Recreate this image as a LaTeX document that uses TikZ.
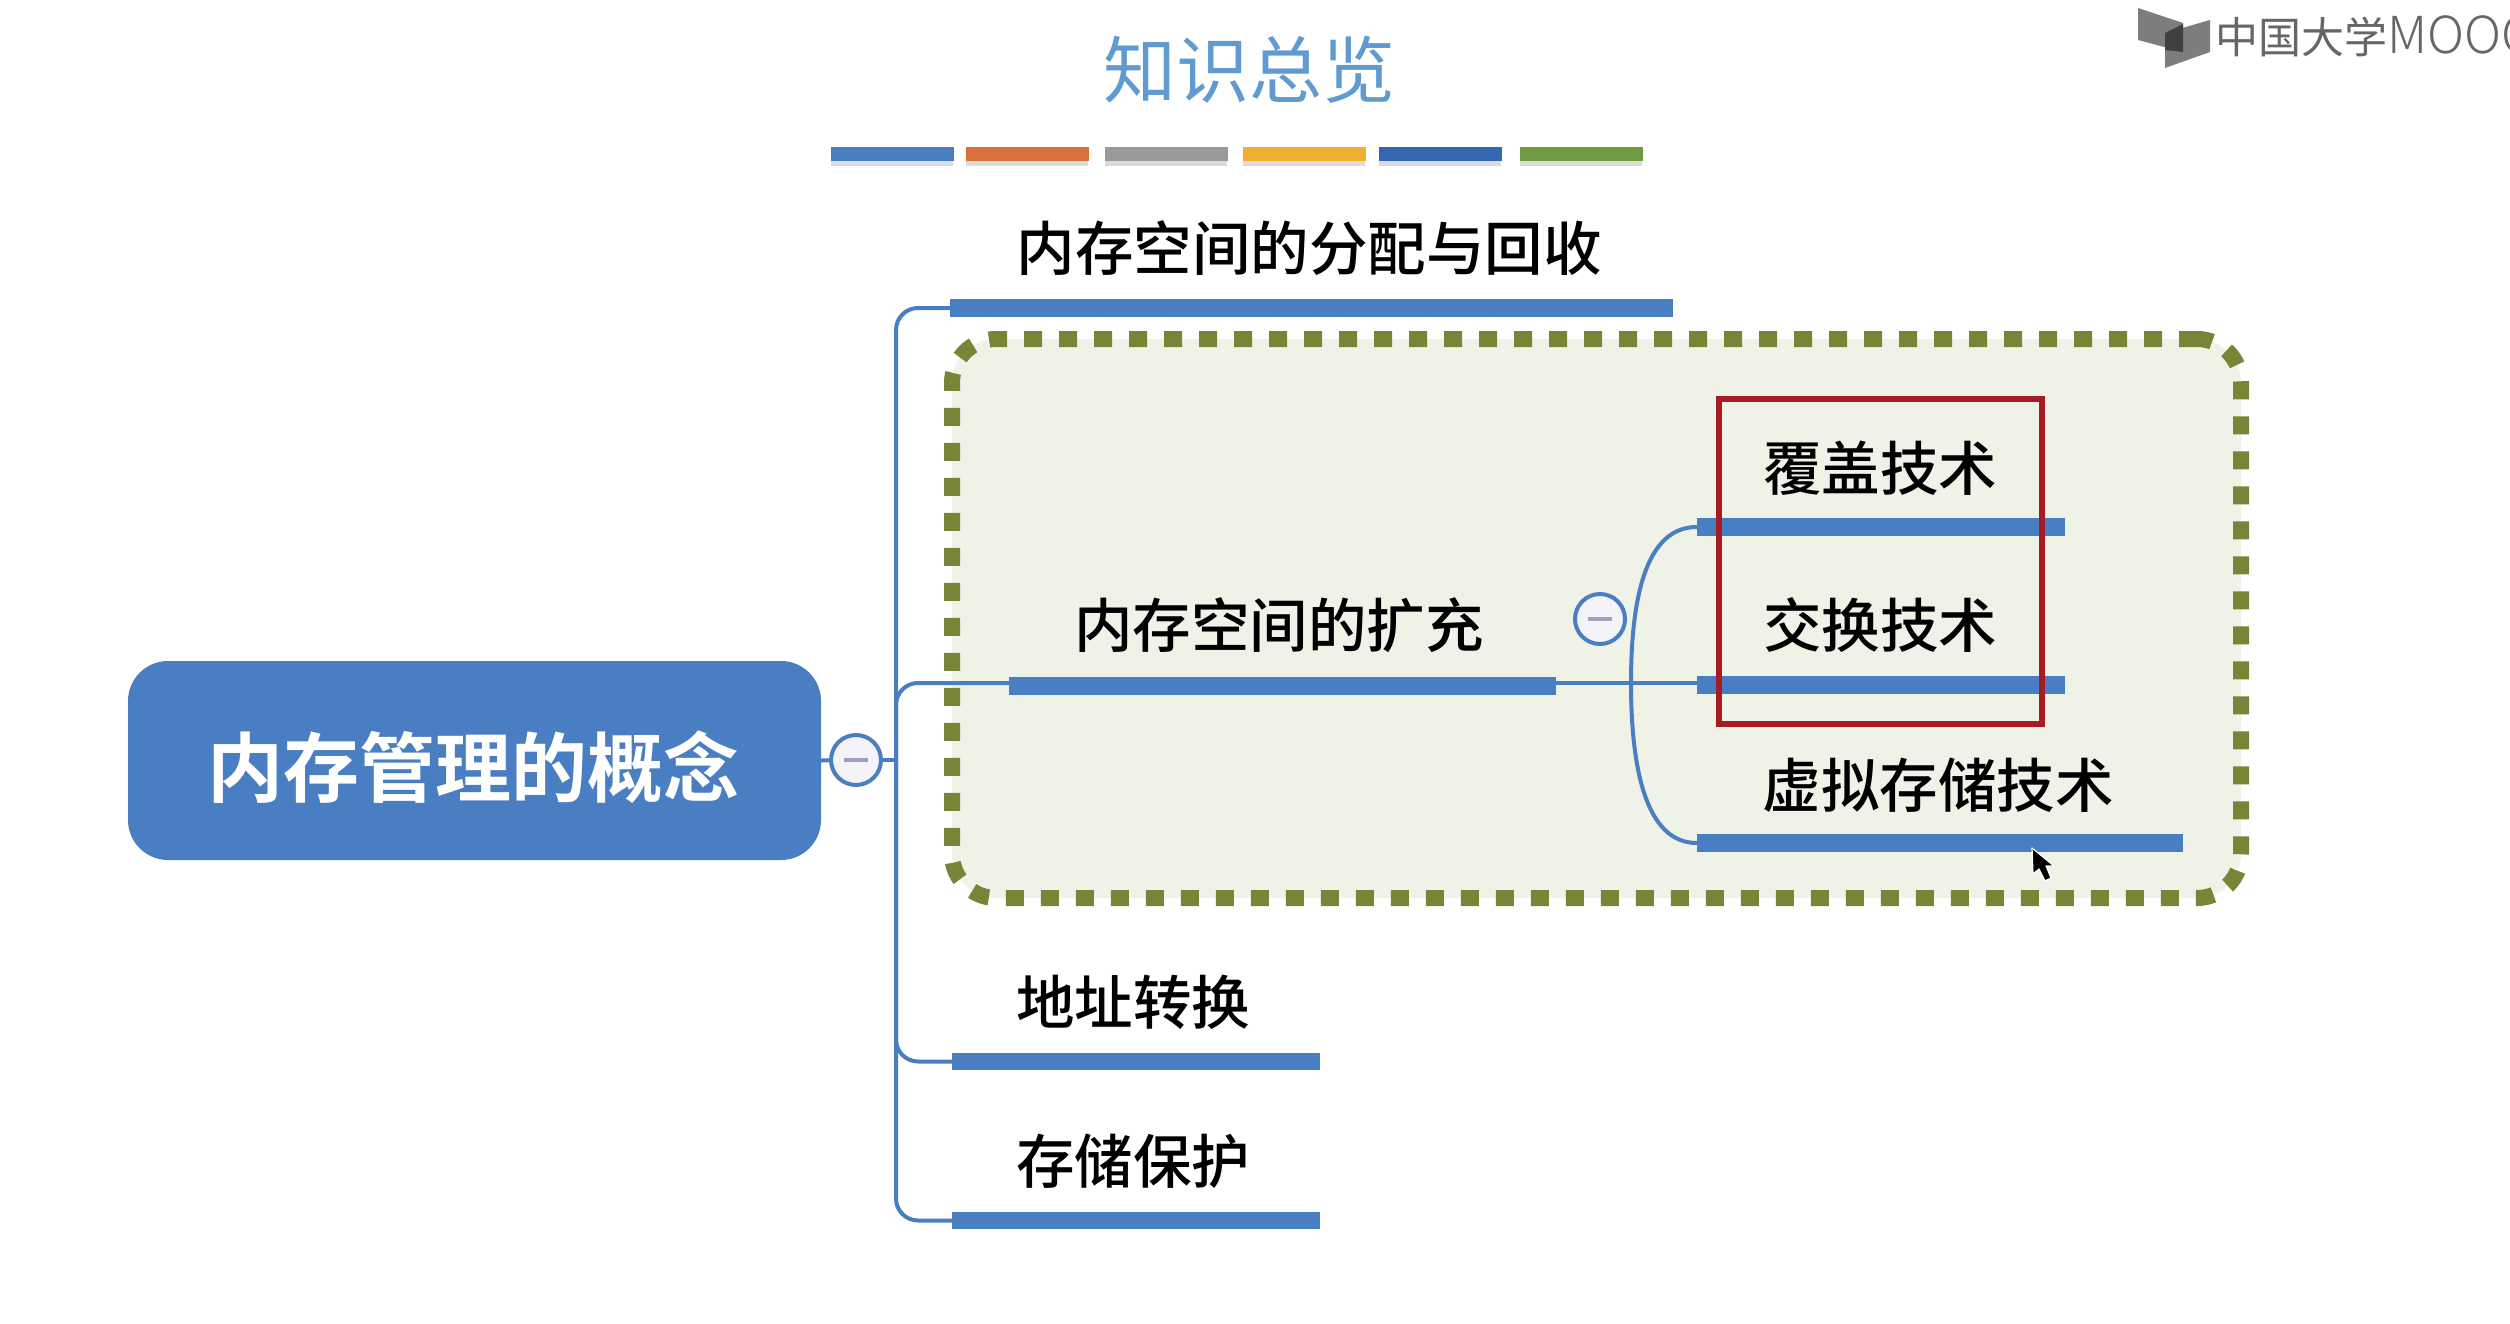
\documentclass[tikz,border=0pt]{standalone}
\usepackage{fontspec}
\setmainfont{Noto Sans CJK SC Medium}
\newfontfamily\lightcjk{Noto Sans CJK SC Light}
\newfontfamily\regcjk{Noto Sans CJK SC}
\newfontfamily\boldcjk{Noto Sans CJK SC Bold}
\definecolor{mblue}{HTML}{4A7EC2}
\definecolor{tblue}{HTML}{5F9BD0}
\definecolor{gfill}{HTML}{EFF2E7}
\definecolor{golive}{HTML}{7A8436}
\definecolor{rbox}{HTML}{A61C24}
\definecolor{kfill}{HTML}{F3F3F8}
\definecolor{kminus}{HTML}{A0A0C4}
\definecolor{logog}{HTML}{666666}
\tikzset{
  x=1pt,y=-1pt,
  bar/.style={fill=mblue,draw=none,inner sep=0pt,minimum height=17.5pt},
  conn/.style={draw=mblue,line width=4pt},
  label/.style={inner sep=0pt,text=black,font=\fontsize{58.5}{60}\selectfont},
  knot/.style={circle,draw=mblue,line width=4pt,fill=kfill,minimum size=50pt,inner sep=0pt},
  deco/.style={draw=none,inner sep=0pt,minimum height=14pt,minimum width=123pt},
}
\begin{document}
\begin{tikzpicture}
\clip (0,0) rectangle (2510,1324);
\useasboundingbox (0,0) rectangle (2510,1324);
\fill[white] (0,0) rectangle (2510,1324);
% title
\node[inner sep=0pt,text=tblue,font=\regcjk\fontsize{73}{75}\selectfont] (title) at (1249,70) {知识总览};
% decorative bars
\foreach \cx/\col/\nm in {892/4A7EC2/d1,1027/D9703A/d2,1166/999999/d3,1304/F0AE2E/d4,1440/3566B0/d5,1581/6E9A40/d6}{
  \definecolor{tmpc}{HTML}{\col}
  \fill[black,opacity=.14] (\cx-61,152) rectangle (\cx+61,166);
  \node[deco,fill=tmpc] (\nm) at (\cx,154) {};
}
% group box
\node[rounded corners=44pt,draw=golive,fill=gfill,line width=16pt,dash pattern=on 18pt off 17pt,
      minimum width=1289pt,minimum height=559pt,inner sep=0pt] (grp) at (1596.5,618.5) {};
% root and branches
\node[rounded corners=40pt,fill=mblue,inner sep=0pt,minimum width=693pt,minimum height=199pt] (root) at (474.5,760.5) {};
\node[inner sep=0pt,text=white,font=\boldcjk\fontsize{76}{78}\selectfont] (rootlabel) at (473,767) {内存管理的概念};
\node[knot] (k1) at (856,760) {};
\node[knot] (k2) at (1600,619) {};
\fill[kminus] (844,758) rectangle (868,762);
\fill[kminus] (1588,617) rectangle (1612,621);
\coordinate (t) at (896,760);
\node[bar,minimum width=723pt] (b1) at (1311.5,308) {};
\node[bar,minimum width=547pt] (b2) at (1282.5,686) {};
\node[bar,minimum width=368pt] (b3) at (1136,1061.5) {};
\node[bar,minimum width=368pt] (b4) at (1136,1220.5) {};
\node[bar,minimum width=368pt] (c1) at (1881,527) {};
\node[bar,minimum width=368pt] (c2) at (1881,685) {};
\node[bar,minimum width=486pt] (c3) at (1940,843) {};
\coordinate (j) at (1631,683);
\draw[conn] (root.east) -- (k1);
\draw[conn] (k1.east) -- (t);
\draw[conn,rounded corners=22pt] (t) |- (b1.west);
\draw[conn,rounded corners=22pt] (t) |- ([yshift=3pt]b2.west);
\draw[conn,rounded corners=22pt] (t) |- (b3.west);
\draw[conn,rounded corners=22pt] (t) |- (b4.west);
\draw[conn] ([yshift=3pt]b2.east) -- ([yshift=2pt]c2.west);
\draw[conn] (j) .. controls (1631,600) and (1645,527) .. (c1.west);
\draw[conn] (j) .. controls (1631,766) and (1645,843) .. (c3.west);
% labels
\node[label] (l1) at (1309,248) {内存空间的分配与回收};
\node[label] (l2) at (1279,625) {内存空间的扩充};
\node[label] (l3) at (1133,1002) {地址转换};
\node[label] (l4) at (1133,1161) {存储保护};
\node[label] (m1) at (1880,468) {覆盖技术};
\node[label] (m2) at (1880,625) {交换技术};
\node[label] (m3) at (1938,785) {虚拟存储技术};
% red frame
\node[draw=rbox,line width=6pt,minimum width=323pt,minimum height=325pt,inner sep=0pt] (red) at (1880,561) {};
% cursor
\draw[white,line width=1.2pt,fill=black,line join=round] (2032,848) -- (2033,874) -- (2039,869) -- (2045,881) -- (2051,878) -- (2046,866) -- (2054,866) -- cycle;
% logo
\fill[logog!85] (2138,8) -- (2183,23) -- (2183,52) -- (2138,40) -- cycle;
\fill[logog!85] (2210,20) -- (2210,52) -- (2165,68) -- (2165,33) -- cycle;
\fill[black!75] (2165,33) -- (2183,24) -- (2183,52) -- (2165,50) -- cycle;
\node[anchor=west,inner sep=0pt,text=logog,font=\regcjk\fontsize{43}{45}\selectfont] (logo) at (2215,36) {中国大学{\lightcjk\fontsize{51}{51}\selectfont MOOC}};
\end{tikzpicture}
\end{document}
